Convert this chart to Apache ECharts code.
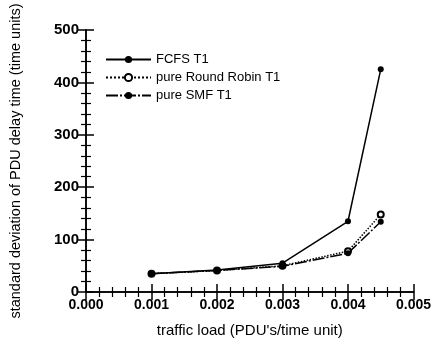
<!DOCTYPE html>
<html><head><meta charset="utf-8">
<script src="https://cdn.jsdelivr.net/npm/echarts@6/dist/echarts.min.js"></script>
<style>html,body{margin:0;padding:0;background:#fff}#c{width:434px;height:343px}</style>
</head><body><div id="c"></div>
<script>
const xLoad = [0.001, 0.002, 0.003, 0.004, 0.0045];
const fcfs = [35, 42, 55, 135, 425];
const roundRobin = [35, 41, 50, 78, 148];
const smf = [35, 41, 49, 74, 134];
const seriesNames = ['FCFS T1', 'pure Round Robin T1', 'pure SMF T1'];

const chart = echarts.init(document.getElementById('c'));
const pair = (arr) => xLoad.map((x, i) => [x, arr[i]]);
const font = 'Liberation Sans, Arial, sans-serif';
const axisCommon = {
  axisLine: {show: true, lineStyle: {color: '#000', width: 1.5}},
  axisTick: {show: true, inside: true, length: 8, lineStyle: {color: '#000', width: 1.5}},
  minorTick: {show: true, splitNumber: 5, length: 5, lineStyle: {color: '#000', width: 1.2}},
  splitLine: {show: false}
};
chart.setOption({
  animation: false,
  backgroundColor: '#fff',
  grid: {left: 83, right: 20, top: 30, bottom: 51, containLabel: false},
  legend: {
    orient: 'vertical', left: 100, top: 48, itemGap: 5, itemWidth: 45, itemHeight: 9,
    textStyle: {fontFamily: font, fontSize: 13, color: '#000'},
    data: seriesNames
  },
  xAxis: [
    Object.assign({type: 'value', min: 0, max: 0.005, interval: 0.001,
      name: "traffic load (PDU's/time unit)", nameLocation: 'middle', nameGap: 31,
      nameTextStyle: {fontFamily: font, fontSize: 15, color: '#000'},
      axisLabel: {formatter: v => v.toFixed(3), fontFamily: font, fontSize: 14, fontWeight: 'bold', color: '#000', margin: 6}
    }, axisCommon),
    Object.assign({type: 'value', position: 'top', min: 0, max: 0.005, interval: 0.001, axisLabel: {show: false}}, axisCommon)
  ],
  yAxis: [
    Object.assign({type: 'value', min: 0, max: 500, interval: 100,
      name: 'standard deviation of PDU delay time (time units)', nameLocation: 'middle', nameGap: 63,
      nameTextStyle: {fontFamily: font, fontSize: 14.5, color: '#000'},
      axisLabel: {fontFamily: font, fontSize: 15, fontWeight: 'bold', color: '#000', margin: 7}
    }, axisCommon),
    Object.assign({type: 'value', position: 'right', min: 0, max: 500, interval: 100, axisLabel: {show: false}}, axisCommon)
  ],
  series: [
    {name: seriesNames[0], type: 'line', data: pair(fcfs), symbol: 'circle', symbolSize: 6,
     itemStyle: {color: '#000'}, lineStyle: {color: '#000', width: 1.5, type: 'solid'}},
    {name: seriesNames[1], type: 'line', data: pair(roundRobin), symbol: 'emptyCircle', symbolSize: 6,
     itemStyle: {color: '#000', borderColor: '#000', borderWidth: 1.2}, lineStyle: {color: '#000', width: 1.5, type: 'dotted'}},
    {name: seriesNames[2], type: 'line', data: pair(smf), symbol: 'circle', symbolSize: 6,
     itemStyle: {color: '#000'}, lineStyle: {color: '#000', width: 1.5, type: [12, 2, 2, 2]}}
  ]
});
</script></body></html>
